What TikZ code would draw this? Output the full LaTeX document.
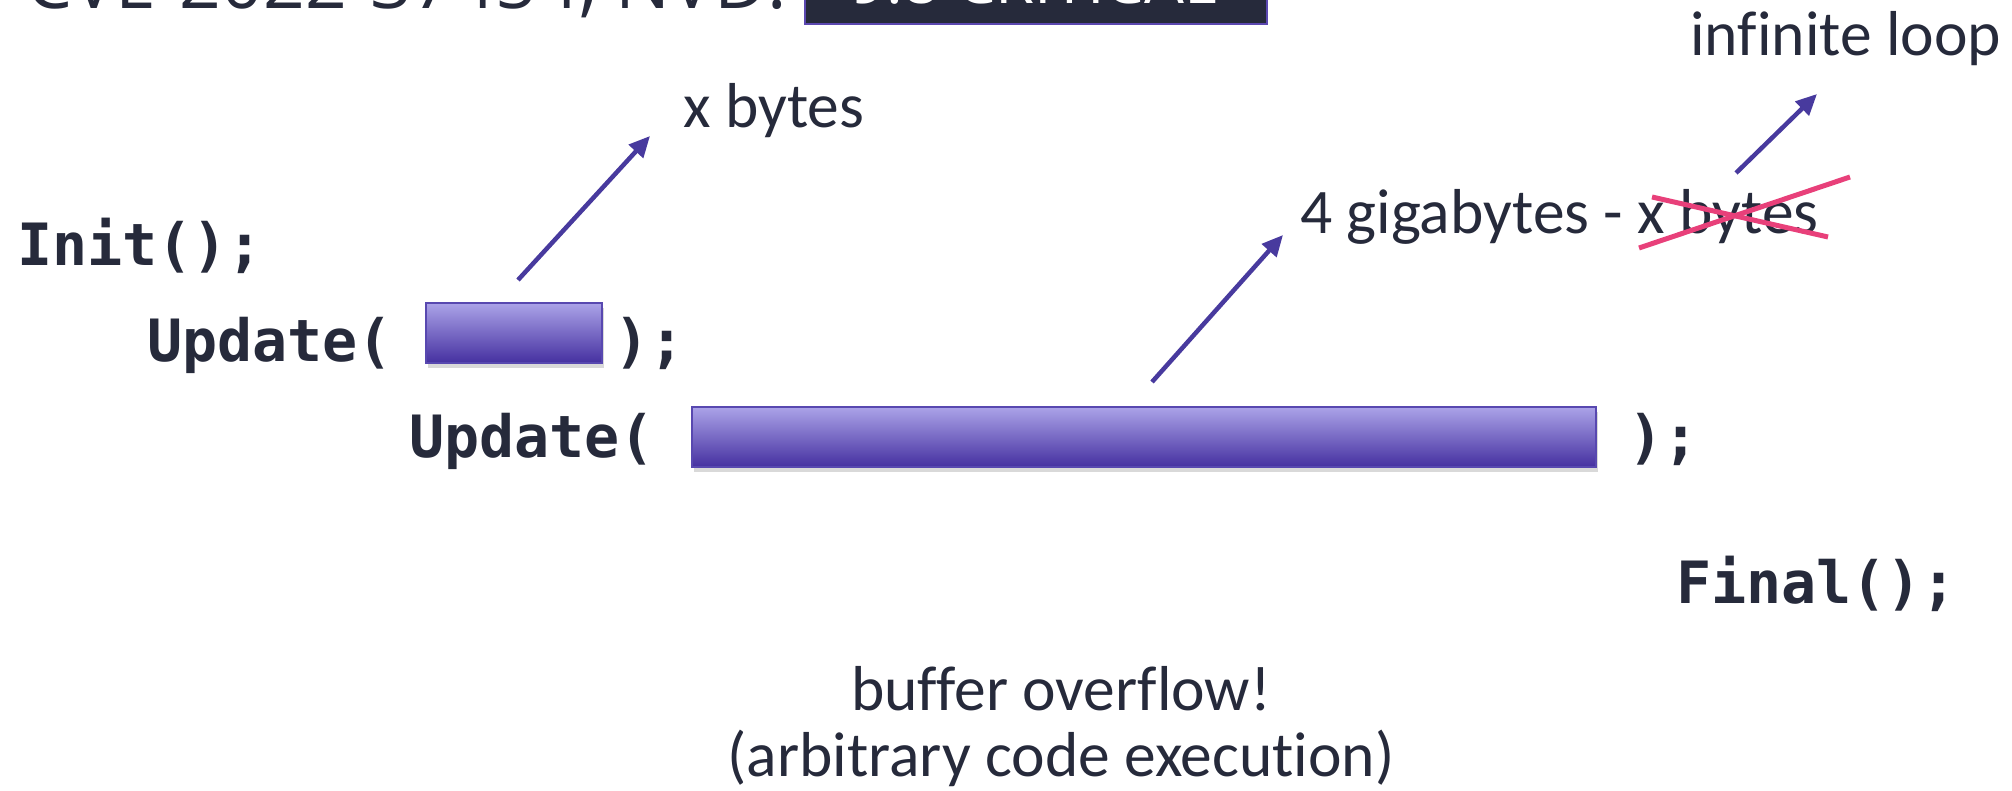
\documentclass[tikz,border=0pt]{standalone}
\usepackage{fontspec}
\setmainfont{Carlito}[Ligatures={NoCommon}]
\newfontfamily\codefont{DejaVu Sans Mono}
\newfontfamily\headfont{Open Sans}
\usetikzlibrary{arrows.meta,shadows}
\definecolor{ink}{HTML}{262A3B}
\definecolor{arrowc}{HTML}{483A9E}
\definecolor{barline}{HTML}{5848B0}
\definecolor{bartop}{HTML}{ABA3E8}
\definecolor{barmid}{HTML}{8C80D2}
\definecolor{barbot}{HTML}{4530A0}
\definecolor{strike}{HTML}{E8407A}
\definecolor{badgefill}{HTML}{262A3B}
\definecolor{badgeline}{HTML}{5B48B0}
\tikzset{
  code/.style={anchor=base west, inner sep=0pt, text=ink,
    font=\codefont\bfseries\fontsize{58.3}{64}\selectfont},
  label/.style={inner sep=0pt, text=ink, font=\fontsize{63.5}{70}\selectfont},
  buf/.style={draw=barline, line width=1.5pt, shading=axis,
    top color=bartop, middle color=barmid, bottom color=barbot,
    inner sep=0pt, drop shadow={shadow xshift=2pt, shadow yshift=-5pt, opacity=0.25, fill=black!60}},
  ptr/.style={draw=arrowc, line width=4.5pt, -{Triangle[length=21pt,width=19pt]}},
  cross/.style={draw=strike, line width=5pt},
}
\begin{document}
\begin{tikzpicture}[x=1pt, y=-1pt]
\useasboundingbox (0,0) rectangle (2012,791);
\clip (0,0) rectangle (2012,791);

% heading line, cut by the top edge
\node[anchor=base west, inner sep=0pt, text=ink,
  font=\headfont\fontsize{73}{80}\selectfont] (cve) at (26,9) {CVE-2022-37454, NVD:};
\node[draw=badgeline, line width=2pt, fill=badgefill, minimum width=462pt,
  minimum height=90pt, inner sep=0pt] (badge) at (1036,-21) {};
\node[anchor=base, inner sep=0pt, text=white,
  font=\headfont\fontsize{63}{70}\selectfont] (sev) at (1034,4) {9.8 CRITICAL};

% the calls
\node[code] (init) at (17,266) {Init();};
\node[code] (upd1) at (147,361) {Update(};
\node[buf, minimum width=176pt, minimum height=60pt] (bar1) at (514,333) {};
\node[code] (close1) at (614,361) {);};
\node[code] (upd2) at (409,457) {Update(};
\node[buf, minimum width=904pt, minimum height=60pt] (bar2) at (1144,437) {};
\node[code] (close2) at (1628,457) {);};
\node[code] (final) at (1676,603) {Final();};

% labels
\node[label, anchor=base west] (xb) at (683,128) {x bytes};
\node[label, anchor=base west] (gb) at (1300,234) {4 gigabytes - x bytes};
\node[label, anchor=base west] (loop) at (1690,56) {infinite loop};
\node[label, anchor=base] (bo) at (1061,710) {buffer overflow!};
\node[label, anchor=base] (ace) at (1061,776) {(arbitrary code execution)};

% arrow end points
\coordinate (t1) at (518,280);
\coordinate (h1) at (650,136);
\coordinate (t2) at (1152,382);
\coordinate (h2) at (1283,235);
\coordinate (t3) at (1736,173);
\coordinate (h3) at (1817,94);

\draw[ptr] (t1) -- (h1);
\draw[ptr] (t2) -- (h2);
\draw[ptr] (t3) -- (h3);

% struck-out part of the second label
\coordinate (ca1) at (1639,248);
\coordinate (ca2) at (1850,177);
\coordinate (cb1) at (1652,197);
\coordinate (cb2) at (1828,237);
\draw[cross] (ca1) -- (ca2);
\draw[cross] (cb1) -- (cb2);
\end{tikzpicture}
\end{document}
